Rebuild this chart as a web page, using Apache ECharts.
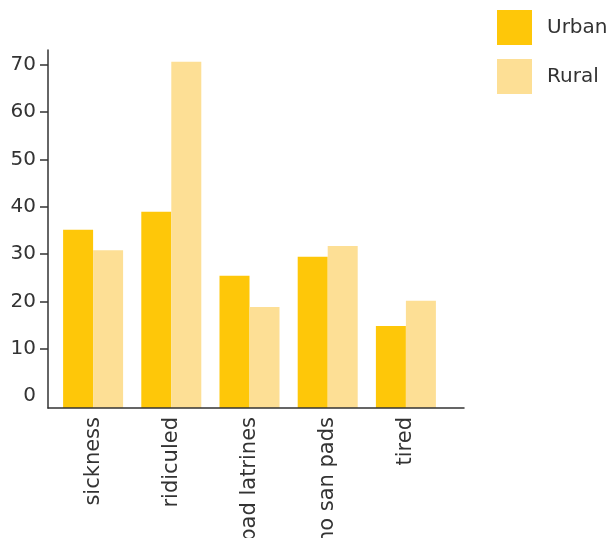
<!DOCTYPE html>
<html>
<head>
<meta charset="utf-8">
<script src="https://cdn.jsdelivr.net/npm/echarts@6/dist/echarts.min.js"></script>
<style>
  html, body { margin: 0; padding: 0; background: #fff; }
  #chart { width: 611px; height: 538px; }
</style>
</head>
<body>
<div id="chart"></div>
<script>
// data
const categories = ['sickness', 'ridiculed', 'bad latrines', 'no san pads', 'tired']
const urban = [35.1, 38.9, 25.4, 29.4, 14.8]
const rural = [30.8, 70.6, 18.8, 31.7, 20.1]
const yTicks = [10, 20, 30, 40, 50, 60, 70]
const yLabels = [0, 10, 20, 30, 40, 50, 60, 70]

const font = 'DejaVu Sans'
const textColor = '#333'
const yMin = -2.54
const yMax = 73.1

const chart = echarts.init(document.getElementById('chart'))

const option = {
  animation: false,
  textStyle: { fontFamily: font },
  legend: {
    orient: 'vertical',
    left: 497,
    top: 10,
    padding: 0,
    itemWidth: 35,
    itemHeight: 35,
    itemGap: 14,
    icon: 'rect',
    textStyle: { fontFamily: font, fontSize: 20, color: textColor, padding: [0, 0, 0, 10] },
    data: ['Urban', 'Rural']
  },
  grid: [
    // axis frame
    { left: 48, right: 147, top: 50, bottom: 130, outerBoundsMode: 'none' },
    // bars
    { left: 54, width: 391, top: 50, bottom: 130, outerBoundsMode: 'none' }
  ],
  xAxis: [
    {
      gridIndex: 0,
      type: 'value',
      min: 0,
      max: 1,
      z: 5,
      axisLine: { show: true, onZero: false, lineStyle: { color: '#333', width: 1.5 } },
      axisTick: { show: false },
      axisLabel: { show: false },
      splitLine: { show: false }
    },
    {
      gridIndex: 1,
      type: 'category',
      data: categories,
      axisLine: { show: false, onZero: false },
      axisTick: { show: false },
      axisLabel: {
        rotate: 90,
        margin: 9,
        fontFamily: font,
        fontSize: 21,
        color: textColor
      }
    }
  ],
  yAxis: [
    {
      gridIndex: 0,
      type: 'value',
      min: yMin,
      max: yMax,
      axisLine: { show: true, lineStyle: { color: '#333', width: 1.5 } },
      axisTick: { show: true, length: 8, customValues: yTicks, lineStyle: { color: '#333', width: 1.5 } },
      axisLabel: { customValues: yLabels, margin: 12, fontFamily: font, fontSize: 20, color: textColor },
      splitLine: { show: false }
    },
    {
      gridIndex: 1,
      type: 'value',
      min: yMin,
      max: yMax,
      startValue: yMin,
      show: false,
      splitLine: { show: false }
    }
  ],
  series: [
    {
      name: 'Urban',
      type: 'bar',
      xAxisIndex: 1,
      yAxisIndex: 1,
      barWidth: 30,
      barGap: 0,
      itemStyle: { color: '#fec709' },
      data: urban
    },
    {
      name: 'Rural',
      type: 'bar',
      xAxisIndex: 1,
      yAxisIndex: 1,
      barWidth: 30,
      barGap: 0,
      itemStyle: { color: '#fddf95' },
      data: rural
    }
  ]
}

chart.setOption(option)
</script>
</body>
</html>
